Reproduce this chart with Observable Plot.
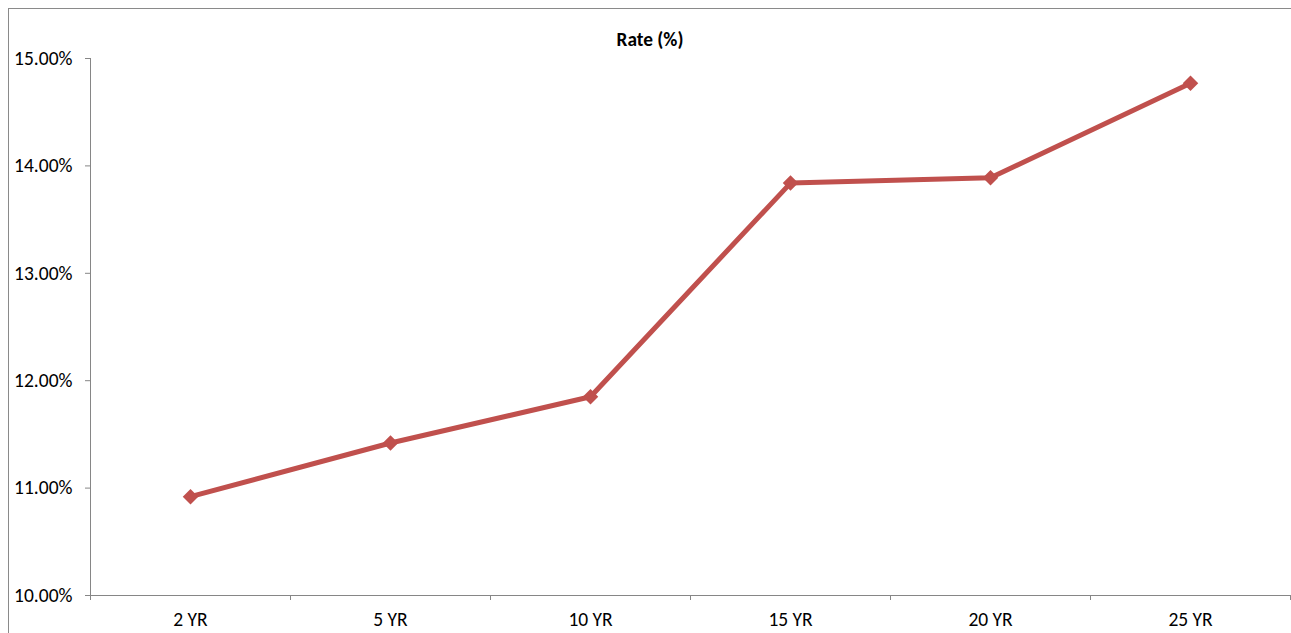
<!DOCTYPE html>
<html>
<head>
<meta charset="utf-8">
<script src="https://cdn.jsdelivr.net/npm/d3@7"></script>
<script src="https://cdn.jsdelivr.net/npm/@observablehq/plot@0.6"></script>
<style>
  html, body { margin: 0; padding: 0; background: #fff; }
  #wrap { position: relative; width: 1291px; height: 633px; overflow: hidden; font-family: Calibri, Carlito, "Open Sans", sans-serif; }
  #border { position: absolute; left: 8px; top: 8px; width: 1400px; height: 800px; border: 1px solid #8a8a8a; box-sizing: border-box; pointer-events: none; }
  #title { position: absolute; left: 0; width: 1300px; top: 28px; text-align: center; font-weight: bold; font-size: 19.3px; line-height: 1.2; color: #000; }
  #chart { position: absolute; left: 0; top: 0; }
</style>
</head>
<body>
<div id="wrap">
  <div id="chart"></div>
  <div id="border"></div>
  <div id="title">Rate (%)</div>
</div>
<script>
const categories = ["2 YR", "5 YR", "10 YR", "15 YR", "20 YR", "25 YR"];
const rates = [10.92, 11.42, 11.85, 13.84, 13.89, 14.77];
const yTicks = [10, 11, 12, 13, 14, 15];

const data = categories.map((c, i) => ({cat: c, i: i + 0.5, rate: rates[i]}));
const boundaries = d3.range(categories.length + 1);
const centers = data.map(d => d.i);

const red = "#C0504D";
const axisGray = "#868686";

const chart = Plot.plot({
  width: 1291,
  height: 633,
  marginLeft: 90,
  marginRight: 1,
  marginTop: 58,
  marginBottom: 38,
  style: {fontFamily: 'Calibri, Carlito, "Open Sans", sans-serif', fontSize: "19.5px", background: "transparent", color: "#000"},
  x: {type: "linear", domain: [0, categories.length]},
  y: {type: "linear", domain: [10, 15]},
  marks: [
    Plot.ruleY([10], {stroke: axisGray, strokeWidth: 1}),
    Plot.ruleX([0], {y1: 10, y2: 15, stroke: axisGray, strokeWidth: 1}),
    Plot.axisX({ticks: boundaries, tickSize: 5, tickFormat: () => "", stroke: axisGray, label: null}),
    Plot.axisX({ticks: centers, tickSize: 0, tickPadding: 17, tickFormat: v => categories[Math.floor(v)], fill: "#000", fontSize: 19.5, label: null}),
    Plot.axisY({ticks: yTicks, tickSize: 5, tickPadding: 13, tickFormat: v => v.toFixed(2) + "%", stroke: axisGray, fill: "#000", fontSize: 19.5, label: null}),
    Plot.line(data, {x: "i", y: "rate", stroke: red, strokeWidth: 5, strokeLinejoin: "round"}),
    Plot.dot(data, {x: "i", y: "rate", symbol: "diamond2", r: 7, fill: red, stroke: null})
  ]
});
document.getElementById("chart").appendChild(chart);
</script>
</body>
</html>
